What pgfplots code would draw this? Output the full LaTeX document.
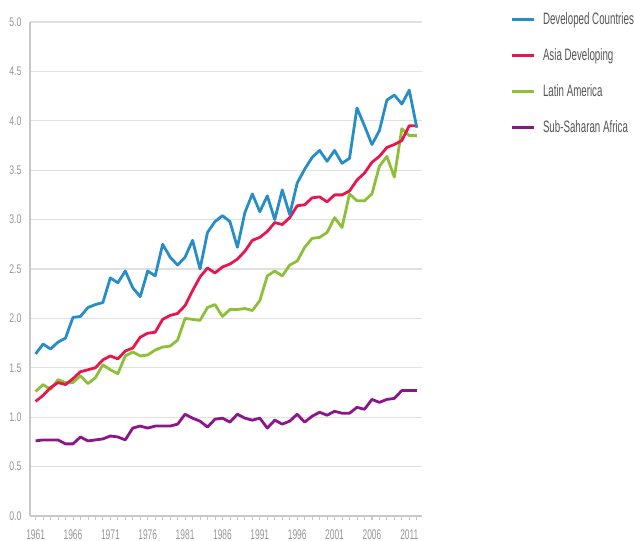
\documentclass[border=0pt]{standalone}
\usepackage{pgfplots}
\pgfplotsset{compat=1.18}
\usepackage{pgfplotstable}
\usepackage{fontspec}
\setmainfont{Liberation Sans}
\newfontfamily\ticky{Liberation Sans}[FakeStretch=0.7]
\newfontfamily\tickx{Liberation Sans}[FakeStretch=0.6]
\newfontfamily\legf{Liberation Sans}[FakeStretch=0.59]
\definecolor{cblue}{RGB}{38,141,198}
\definecolor{cred}{RGB}{232,22,78}
\definecolor{cgreen}{RGB}{140,192,55}
\definecolor{cpurple}{RGB}{139,22,139}
\definecolor{cgrid}{RGB}{224,224,224}
\definecolor{caxis}{RGB}{200,200,200}
\definecolor{ctick}{RGB}{150,150,150}
\definecolor{cleg}{RGB}{85,85,85}
\pgfplotstableread{
year dev asia latin ssa
1961 1.64 1.16 1.26 0.76
1962 1.74 1.22 1.33 0.77
1963 1.69 1.30 1.28 0.77
1964 1.76 1.35 1.38 0.77
1965 1.80 1.33 1.35 0.73
1966 2.01 1.39 1.35 0.73
1967 2.02 1.46 1.42 0.80
1968 2.11 1.48 1.34 0.76
1969 2.14 1.50 1.40 0.77
1970 2.16 1.58 1.53 0.78
1971 2.41 1.62 1.48 0.81
1972 2.36 1.59 1.44 0.80
1973 2.48 1.67 1.62 0.77
1974 2.31 1.70 1.66 0.89
1975 2.22 1.81 1.62 0.91
1976 2.48 1.85 1.63 0.89
1977 2.43 1.86 1.68 0.91
1978 2.75 1.99 1.71 0.91
1979 2.62 2.03 1.72 0.91
1980 2.54 2.05 1.78 0.93
1981 2.62 2.13 2.00 1.03
1982 2.79 2.28 1.99 0.99
1983 2.50 2.42 1.98 0.96
1984 2.87 2.51 2.11 0.90
1985 2.98 2.46 2.14 0.98
1986 3.04 2.52 2.02 0.99
1987 2.98 2.55 2.09 0.95
1988 2.72 2.60 2.09 1.03
1989 3.07 2.68 2.10 0.99
1990 3.26 2.79 2.08 0.97
1991 3.08 2.82 2.18 0.99
1992 3.24 2.88 2.43 0.89
1993 3.00 2.97 2.48 0.97
1994 3.30 2.95 2.43 0.93
1995 3.05 3.02 2.54 0.96
1996 3.37 3.14 2.58 1.03
1997 3.51 3.15 2.72 0.95
1998 3.63 3.22 2.81 1.01
1999 3.70 3.23 2.82 1.05
2000 3.59 3.18 2.87 1.02
2001 3.70 3.25 3.02 1.06
2002 3.57 3.25 2.92 1.04
2003 3.62 3.29 3.26 1.04
2004 4.13 3.40 3.19 1.10
2005 3.95 3.47 3.19 1.08
2006 3.76 3.58 3.26 1.18
2007 3.90 3.64 3.54 1.15
2008 4.21 3.73 3.64 1.18
2009 4.26 3.76 3.43 1.19
2010 4.17 3.80 3.92 1.27
2011 4.31 3.95 3.85 1.27
2012 3.93 3.95 3.85 1.27
}\datatable
\begin{document}
\begin{tikzpicture}
\begin{axis}[
  scale only axis,
  width=392bp, height=494bp,
  xmin=1960.25, xmax=2012.7,
  ymin=0, ymax=5,
  axis x line*=bottom, axis y line*=left,
  axis line style={caxis, line width=1.2bp},
  xtick={1961,1966,...,2011},
  xticklabels={1961,1966,1971,1976,1981,1986,1991,1996,2001,2006,2011},
  minor xtick={1961,...,2012},
  tick align=outside,
  major tick length=4bp, minor tick length=4bp,
  x tick style={caxis, line width=0.8bp},
  ytick={0,0.5,...,5},
  yticklabels={0.0,0.5,1.0,1.5,2.0,2.5,3.0,3.5,4.0,4.5,5.0},
  y tick style={draw=none},
  ymajorgrids,
  grid style={cgrid, line width=1.3bp},
  xticklabel style={font=\tickx\fontsize{14bp}{14bp}\selectfont, text=ctick, yshift=-6bp},
  yticklabel style={font=\ticky\fontsize{12.5bp}{12.5bp}\selectfont, text=ctick, xshift=-1bp},
  reverse legend,
  legend style={draw=none, fill=none, at={(axis description cs:1,1)}, anchor=north west,
    xshift=88bp, yshift=10bp,
    font=\legf\fontsize{16.5bp}{16.5bp}\selectfont, text=cleg,
    row sep=21bp, inner sep=0pt,
    nodes={inner sep=0pt, text height=12bp, text depth=3bp}},
  legend cell align=left,
  legend image code/.code={\draw[#1] (0bp,0bp) -- (22bp,0bp);},
  every axis plot/.append style={line width=2.8bp, line join=round},
]
\coordinate (sw) at (rel axis cs:0,0);
\addplot[cpurple] table[x=year,y=ssa] {\datatable};
\addlegendentry{\hspace{8bp}Sub-Saharan Africa}
\addplot[cgreen] table[x=year,y=latin] {\datatable};
\addlegendentry{\hspace{8bp}Latin America}
\addplot[cred] table[x=year,y=asia] {\datatable};
\addlegendentry{\hspace{8bp}Asia Developing}
\addplot[cblue] table[x=year,y=dev] {\datatable};
\addlegendentry{\hspace{8bp}Developed Countries}
\end{axis}
\pgfresetboundingbox
\path ([shift={(-30bp,-25bp)}]sw) rectangle ++(635bp,541bp);
\end{tikzpicture}
\end{document}
